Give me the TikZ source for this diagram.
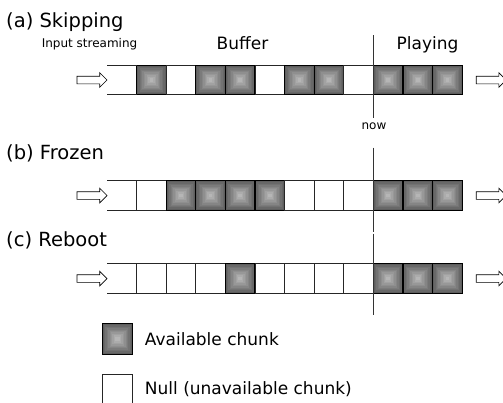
\documentclass[tikz,border=0pt]{standalone}
\usepackage{fontspec}
\setmainfont{DejaVu Sans}
\usetikzlibrary{shapes.arrows, positioning}

\newcommand{\cellw}{29.6}
% one buffer row: name, y, pattern (1 = available chunk, 0 = null)
\newcommand{\bufferrow}[3]{%
  \foreach \f [count=\i] in {#3} {
    \ifnum\i=1
      \node[slot, draw=none] (#1\i) at ({107+\cellw*(\i-0.5)},#2) {};
    \else\ifnum\f=1
      \node[chunk] (#1\i) at ({107+\cellw*(\i-0.5)},#2) {};
    \else
      \node[slot] (#1\i) at ({107+\cellw*(\i-0.5)},#2) {};
    \fi\fi
  }
  \draw[rowline] (#11.north west) -- (#11.north east);
  \draw[rowline] (#11.south west) -- (#11.south east);
}

\begin{document}
\begin{tikzpicture}[
  x=1pt, y=-1pt,
  slot/.style={rectangle, draw=black!85, line width=0.8pt, minimum size=29.6pt,
    inner sep=0pt, outer sep=0pt},
  chunk/.style={slot, draw=black, line width=1.1pt,
    path picture={
      \foreach \k [evaluate=\k as \tone using 63-3.8*\k] in {0,...,9}
        \fill[black!\tone] ([xshift=\k*1.45pt, yshift=\k*1.45pt]path picture bounding box.south west)
          rectangle ([xshift=-\k*1.45pt, yshift=-\k*1.45pt]path picture bounding box.north east);
    }},
  rowline/.style={draw=black!85, line width=0.8pt},
  nowline/.style={draw=black!80, line width=0.8pt},
  flow arrow/.style={single arrow, draw=black, line width=0.7pt, fill=white,
    minimum height=30pt, single arrow head extend=3.5pt, inner sep=3.5pt, outer sep=0pt},
  title/.style={font=\fontsize{19.5}{22}\selectfont, anchor=base west, inner sep=0pt},
  head/.style={font=\fontsize{17}{20}\selectfont, anchor=base, inner sep=0pt},
  small/.style={font=\fontsize{12}{14}\selectfont, anchor=base, inner sep=0pt},
  keytext/.style={font=\fontsize{17}{20}\selectfont, inner sep=0pt},
]
\useasboundingbox (0,0) rectangle (503,402);

\node[title] (titleA) at (6,27) {(a) Skipping};
\node[title] (titleB) at (6,159) {(b) Frozen};
\node[title] (titleC) at (6,246.5) {(c) Reboot};

\node[small] (inlbl) at (89.5,47) {Input streaming};
\node[head] (buflbl) at (242.5,49) {Buffer};
\node[head] (playlbl) at (427.5,49) {Playing};

\bufferrow{a}{80}{0,1,0,1,1,0,1,1,0,1,1,1}
\bufferrow{b}{195.5}{0,0,1,1,1,1,0,0,0,1,1,1}
\bufferrow{c}{278.5}{0,0,0,0,1,0,0,0,0,1,1,1}

\node[flow arrow, left=0pt of a1] (inA) {};
\node[flow arrow, right=14pt of a12] (outA) {};
\node[flow arrow, left=0pt of b1] (inB) {};
\node[flow arrow, right=14pt of b12] (outB) {};
\node[flow arrow, left=0pt of c1] (inC) {};
\node[flow arrow, right=14pt of c12] (outC) {};

\draw[nowline] ([yshift=30pt]a10.north west) -- ([yshift=-23pt]a10.south west);
\draw[nowline] ([yshift=33pt]b10.north west) -- ([yshift=-22pt]b10.south west);
\draw[nowline] ([yshift=30pt]c10.north west) -- ([yshift=-22pt]c10.south west);
\node[small] (nowlbl) at (374,129.5) {now};

\node[chunk, minimum size=30.5pt] (keyfull) at (117.5,339) {};
\node[keytext, right=12pt of keyfull] (keyfulltxt) {Available chunk};
\node[slot, minimum size=30.5pt] (keynull) at (117.5,389.5) {};
\node[keytext, right=12pt of keynull] (keynulltxt) {Null (unavailable chunk)};
\end{tikzpicture}
\end{document}
